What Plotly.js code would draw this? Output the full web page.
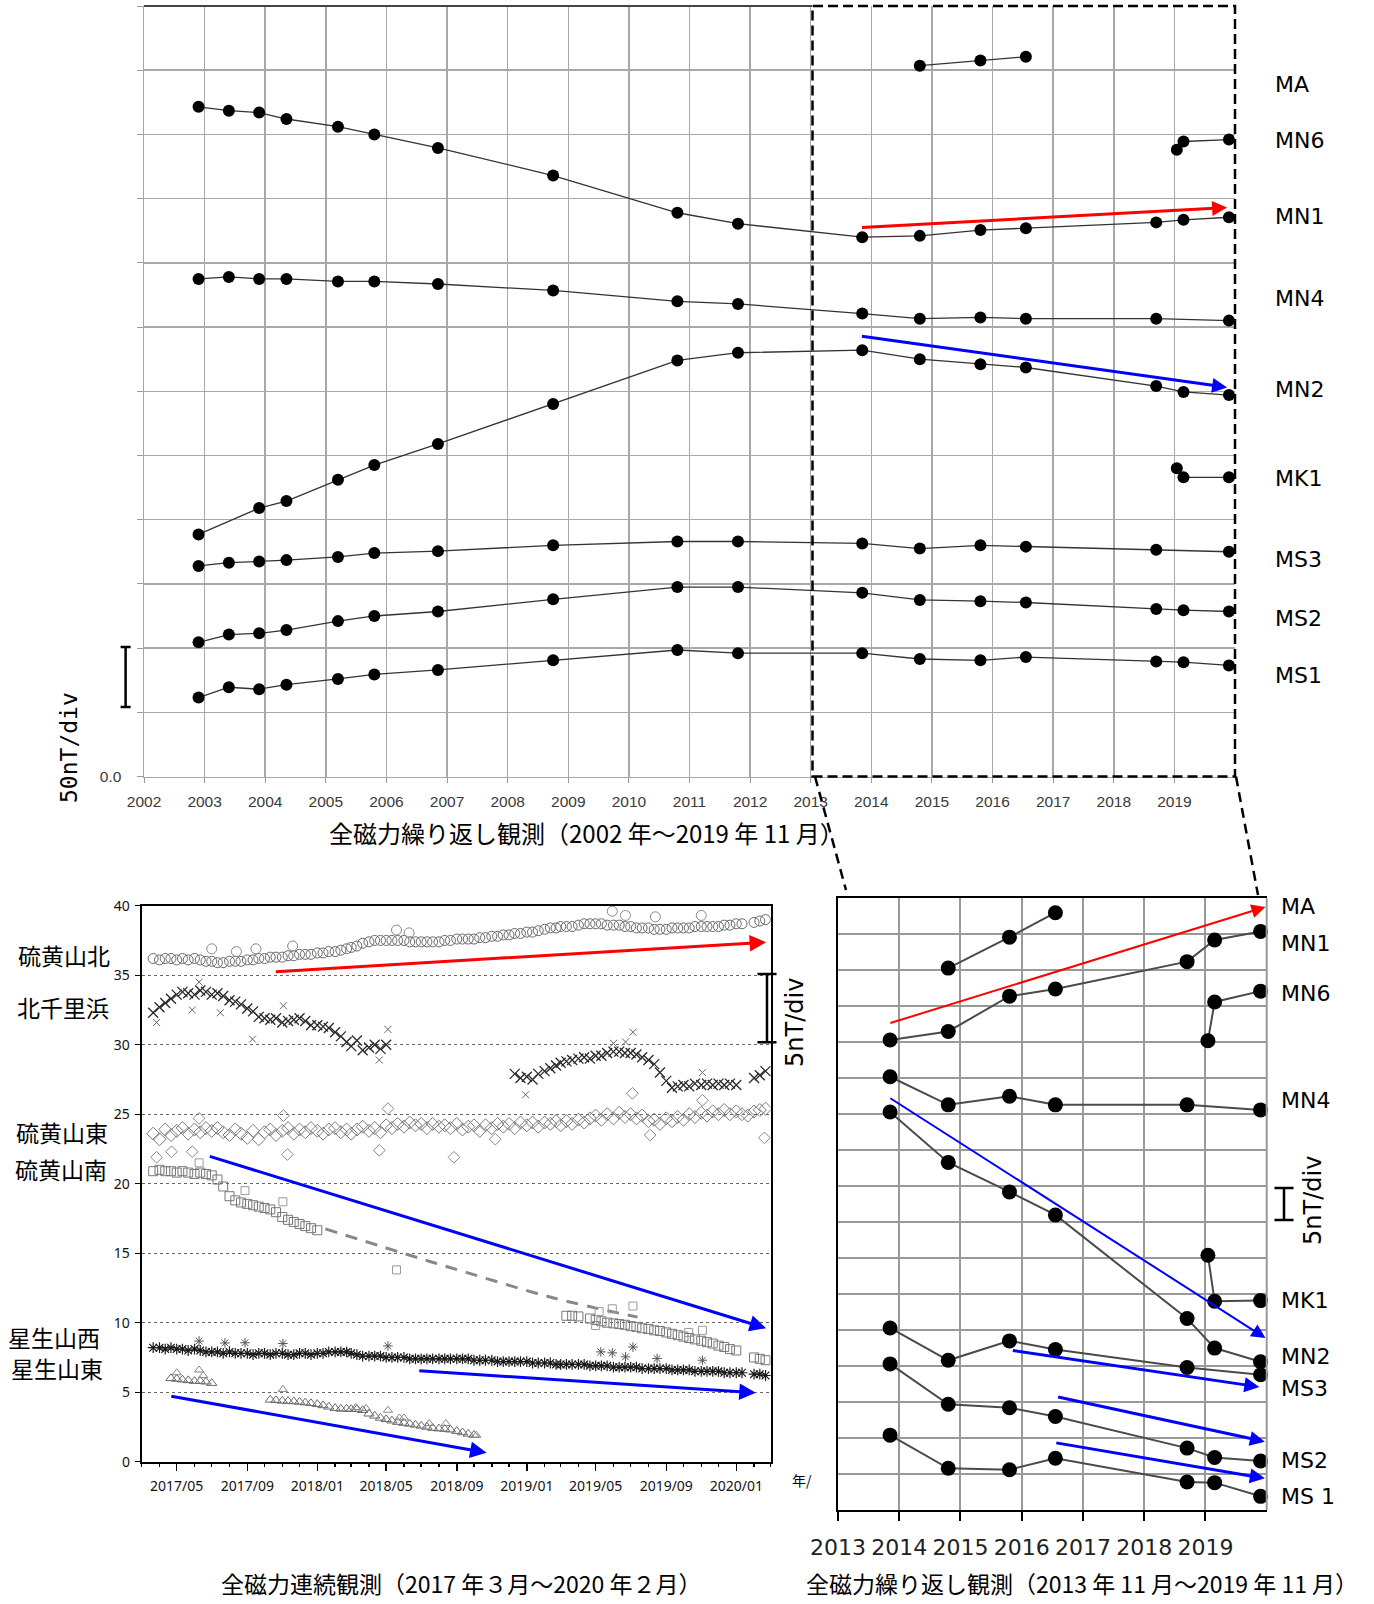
<!DOCTYPE html>
<html><head><meta charset="utf-8">
<script src="https://cdn.plot.ly/plotly-3.0.1.min.js"></script>
<style>html,body{margin:0;padding:0;background:#fff}#chart{width:1374px;height:1604px}</style>
</head><body><div id="chart"></div>
<script>
const W=1374,H=1604;
const px=x=>x/W, py=y=>1-y/H;
const _=null;

// ---------- Top panel: repeat survey 2002-2019 (nT, 50 nT/div) ----------
const topYears=[2002,2003,2004,2005,2006,2007,2008,2009,2010,2011,2012,2013,2014,2015,2016,2017,2018,2019];
const topYearLabels=['2002','2003','2004','2005','2006','2007','2008','2009','2010','2011','2012','2013','2014','2015','2016','2017','2018','2019'];
const topYTicks=[0,50,100,150,200,250,300,350,400,450,500,550,600];
const topYLabels=['0.0','','','','','','','','','','','',''];
const surveyDates=[2002.9,2003.4,2003.9,2004.35,2005.2,2005.8,2006.85,2008.75,2010.8,2011.8,2013.85,2014.8,2015.8,2016.55,2018.7,2019.15,2019.9];
const maDates=[2014.8,2015.8,2016.55];
const lateDates=[2019.04,2019.15,2019.9];
const topMA=[553.5,557.5,560.5];
const topMN6=[488,494.5,496];
const topMN1=[521.5,518.5,517,512,506,500,489.5,468,439,430.5,420,421,425.5,427,431.5,433.5,435.5];
const topMN4=[387.5,389,387.5,387.5,385.5,385.5,383.5,378.5,370,368,360.5,356.5,357.5,356.5,356.5,_,355];
const topMN2=[188.5,_,209,214.5,231,242.5,259,290,324,330,332,325,321,318.5,304,299.5,297];
const topMK1=[240,233,233];
const topMS3=[164,166.5,167.5,168.5,171,174,175.5,180,183,183,181.5,177.5,180,179,176.5,_,175];
const topMS2=[104.5,110.5,111.5,114,121,125,128.5,138,147.5,147.5,143,137.5,136.5,135.5,130.5,129.5,128.5];
const topMS1=[61.5,69.5,68,71.5,76,79.5,83,90.5,98.5,96,96,91.5,90.5,93,89.5,89,86.5];

// ---------- Bottom right: repeat survey 2013-2019 (nT, 5 nT/div) ----------
const rYears=[2013,2014,2015,2016,2017,2018,2019];
const rYearLabels=['2013','2014','2015','2016','2017','2018','2019'];
const rDates=[2013.85,2014.8,2015.8,2016.55,2018.7,2019.15,2019.9];
const rMA=[75.3,79.6,83.0];
const rMN1=[65.3,66.5,71.4,72.4,76.2,79.2,80.4];
const rMN6=[65.2,70.6,72.1];
const rMN4=[60.2,56.3,57.5,56.3,56.3,_,55.6];
const rMN2=[55.3,48.3,44.2,41.0,26.6,22.5,20.6];
const rMK1=[35.4,29.0,29.1];
const rMS3=[25.3,20.8,23.5,22.3,19.8,_,18.8];
const rMS2=[20.3,14.7,14.2,13.0,8.6,7.3,6.8];
const rMS1=[10.4,5.8,5.6,7.2,3.9,3.8,1.9];

// ---------- Bottom left: continuous observation 2017/03 - 2020/02 ----------
const obsTickVals=['2017-05-01','2017-09-01','2018-01-01','2018-05-01','2018-09-01','2019-01-01','2019-05-01','2019-09-01','2020-01-01'];
const obsTickText=['2017/05','2017/09','2018/01','2018/05','2018/09','2019/01','2019/05','2019/09','2020/01'];
const obsDates=`2017-03-21 2017-04-01 2017-04-11 2017-04-21 2017-05-01 2017-05-11 2017-05-21 2017-06-01 2017-06-11 2017-06-21
2017-07-01 2017-07-11 2017-07-21 2017-08-01 2017-08-11 2017-08-21 2017-09-01 2017-09-11 2017-09-21 2017-10-01
2017-10-11 2017-10-21 2017-11-01 2017-11-11 2017-11-21 2017-12-01 2017-12-11 2017-12-21 2018-01-01 2018-01-11
2018-01-21 2018-02-01 2018-02-11 2018-02-21 2018-03-01 2018-03-11 2018-03-21 2018-04-01 2018-04-11 2018-04-21
2018-05-01 2018-05-11 2018-05-21 2018-06-01 2018-06-11 2018-06-21 2018-07-01 2018-07-11 2018-07-21 2018-08-01
2018-08-11 2018-08-21 2018-09-01 2018-09-11 2018-09-21 2018-10-01 2018-10-11 2018-10-21 2018-11-01 2018-11-11
2018-11-21 2018-12-01 2018-12-11 2018-12-21 2019-01-01 2019-01-11 2019-01-21 2019-02-01 2019-02-11 2019-02-21
2019-03-01 2019-03-11 2019-03-21 2019-04-01 2019-04-11 2019-04-21 2019-05-01 2019-05-11 2019-05-21 2019-06-01
2019-06-11 2019-06-21 2019-07-01 2019-07-11 2019-07-21 2019-08-01 2019-08-11 2019-08-21 2019-09-01 2019-09-11
2019-09-21 2019-10-01 2019-10-11 2019-10-21 2019-11-01 2019-11-11 2019-11-21 2019-12-01 2019-12-11 2019-12-21
2020-01-01 2020-01-11 2020-01-21 2020-02-01 2020-02-11 2020-02-21`.trim().split(/\s+/);
// 硫黄山北 (circles)
const ioN=[36.2,36.1,36.2,36.2,36.1, 36.2,36.1,36.2,36.1,36.0, 36.0,35.9,35.9,36.0,36.0, 36.0,36.1,36.1,36.2,36.2,
 36.3,36.3,36.3,36.4,36.4, 36.5,36.5,36.5,36.6,36.6, 36.7,36.7,36.8,36.9,37.0, 37.1,37.3,37.4,37.5,37.5,
 37.5,37.5,37.5,37.5,37.4, 37.4,37.4,37.4,37.4,37.4, 37.5,37.5,37.6,37.6,37.6, 37.6,37.7,37.7,37.8,37.8,
 37.9,37.9,38.0,38.0,38.1, 38.1,38.2,38.3,38.4,38.4, 38.5,38.5,38.5,38.6,38.7, 38.7,38.7,38.7,38.6,38.6,
 38.6,38.5,38.5,38.4,38.4, 38.4,38.3,38.3,38.3,38.4, 38.4,38.4,38.4,38.5,38.5, 38.5,38.5,38.5,38.6,38.6,
 38.7,38.7,_,38.8,38.9,39.0];
// 北千里浜 (x)
const kita=[32.3,32.7,33.0,33.3,33.6, 33.8,33.7,33.6,33.9,33.8, 33.6,33.7,33.5,33.2,33.1, 32.9,32.6,32.4,32.0,31.9,
 31.8,31.9,31.6,31.7,31.8, 31.9,31.7,31.4,31.4,31.3, 31.2,30.9,30.6,30.2,29.9, 30.3,29.6,29.8,30.0,29.7,
 30.0,_,_,_,_, _,_,_,_,_, _,_,_,_,_, _,_,_,_,_,
 _,_,27.9,27.6,27.7, 27.5,27.9,28.1,28.3,28.5, 28.7,28.8,28.9,29.0,29.1, 29.0,29.2,29.2,29.4,29.5,
 29.5,29.4,29.4,29.3,29.1, 28.9,28.6,28.0,27.4,26.9, 27.0,27.1,27.0,27.2,27.1, 27.2,27.1,27.2,27.1,27.2,
 27.1,_,_,27.6,27.8,28.1];
// 硫黄山東 (diamonds)
const ioE=[23.6,23.2,23.9,23.5,23.8,24.0,23.6,23.9,23.7,24.0,
 23.8,24.0,23.7,23.5,23.9,23.6,23.3,23.8,23.2,23.7,
 23.9,23.5,23.8,24.0,23.6,23.9,23.7,24.0,23.8,23.6,
 23.9,24.0,23.7,23.9,23.6,23.9,24.1,23.8,24.0,23.7,
 24.2,24.0,24.3,24.1,24.4,24.2,24.3,24.0,24.3,24.1,
 24.2,24.0,24.3,23.9,24.1,24.2,23.8,24.2,24.0,24.3,
 24.1,24.3,24.0,24.4,24.2,24.4,24.1,24.4,24.3,24.5,
 24.2,24.5,24.3,24.6,24.4,24.7,24.9,24.6,25.0,24.7,
 25.1,24.8,25.0,24.7,24.9,24.5,24.6,24.3,24.7,24.5,
 24.8,24.6,25.0,24.8,25.1,24.9,25.2,25.0,25.3,25.0,
 25.2,25.0,24.9,25.2,25.3,25.4];
// 硫黄山南 (squares)
const ioS=[20.9,21.0,20.9,20.9,20.8, 20.9,20.8,20.7,20.8,20.7, 20.6,20.3,19.8,19.1,18.8, 18.65,18.55,18.45,18.35,18.25,
 18.15,17.95,17.6,17.4,17.25, 17.1,16.95,16.8,16.65,_, _,_,_,_,_, _,_,_,_,_,
 _,_,_,_,_, _,_,_,_,_, _,_,_,_,_, _,_,_,_,_,
 _,_,_,_,_, _,_,_,_,_, _,10.5,10.5,10.45,_, 10.3,10.2,10.1,10.0,9.95,
 9.9,9.85,9.75,9.7,9.6, 9.55,9.45,9.4,9.3,9.2, 9.1,9.0,8.9,8.8,8.7, 8.6,8.5,8.35,8.25,8.1,
 8.0,_,_,7.5,7.4,7.3];
// 硫黄山南 interpolation (dashed)
const ioSgapDates=['2018-01-15','2018-05-25','2018-09-19','2019-02-15','2019-07-13'];
const ioSgapVals=[16.75,15.07,13.6,11.8,10.4];
// 星生山西 (asterisks)
const hoW=[8.2,8.2,8.1,8.2,8.1, 8.1,8.0,8.1,8.0,7.9, 7.9,7.9,7.8,7.9,7.8, 7.8,7.8,7.7,7.8,7.8,
 7.7,7.8,7.8,7.7,7.7, 7.8,7.8,7.7,7.8,7.8, 7.9,7.9,7.9,7.9,7.8, 7.7,7.6,7.6,7.6,7.6,
 7.5,7.5,7.5,7.5,7.4, 7.4,7.4,7.4,7.4,7.4, 7.4,7.4,7.4,7.4,7.4, 7.3,7.3,7.3,7.3,7.2,
 7.2,7.2,7.2,7.2,7.2, 7.1,7.1,7.1,7.1,7.0, 7.0,7.0,7.0,7.0,7.0, 6.9,6.9,6.9,6.9,6.8,
 6.8,6.8,6.8,6.8,6.7, 6.7,6.7,6.7,6.7,6.6, 6.6,6.6,6.6,6.5,6.5, 6.5,6.5,6.5,6.4,6.4,
 6.4,6.4,_,6.3,6.3,6.2];
// 星生山東 (triangles)
const hoE=[_,_,_,6.0,5.95, 5.9,5.85,5.8,5.8,5.75, 5.65,_,_,_,_, _,_,_,_,_,
 4.45,4.42,4.38,4.36,4.33, 4.3,4.25,4.2,4.14,4.05, 3.95,3.85,3.8,3.8,3.78, 3.78,3.7,3.45,3.3,3.15,
 3.05,2.95,2.85,2.78,2.72, 2.65,2.58,2.5,2.42,2.38, 2.35,2.3,2.2,2.1,2.0, 1.92,_,_,_,_,
 _,_,_,_,_, _,_,_,_,_, _,_,_,_,_, _,_,_,_,_,
 _,_,_,_,_, _,_,_,_,_, _,_,_,_,_, _,_,_,_,_,
 _,_,_,_,_,_];
// scattered single readings
const ioNoutD=['2017-07-01','2017-08-13','2017-09-16','2017-11-19','2018-05-19','2018-06-10','2019-05-30','2019-06-22','2019-08-13','2019-11-01'];
const ioNoutV=[36.9,36.7,36.9,37.1,38.25,38.05,39.6,39.3,39.2,39.3];
const kitaOutD=['2017-03-27','2017-05-28','2017-06-09','2017-07-16','2017-09-10','2017-11-03','2018-04-19','2018-05-04','2019-07-05','2019-06-22','2019-06-01','2018-12-30','2019-11-03'];
const kitaOutV=[31.6,32.5,34.5,32.3,30.4,32.8,28.9,31.1,30.9,30.2,30.1,26.4,28.0];
const ioEoutD=['2017-03-27','2017-04-22','2017-05-28','2017-06-09','2017-11-03','2017-11-10','2018-04-19','2018-05-04','2018-08-27','2018-11-07','2019-07-04','2019-08-04','2019-11-03','2020-02-19'];
const ioEoutV=[21.9,22.3,22.3,24.7,24.9,22.1,22.4,25.4,21.9,23.2,26.5,23.5,26.0,23.3];
const ioSoutD=['2017-08-28','2017-11-02','2017-06-09','2018-05-19','2019-07-05','2019-05-30','2019-05-07','2019-11-03','2019-10-10','2019-05-01'];
const ioSoutV=[19.5,18.7,21.5,13.8,11.2,11.0,10.8,9.45,9.3,9.8];
const hoWoutD=['2017-06-09','2017-07-24','2017-08-28','2017-11-02','2018-05-04','2019-05-10','2019-05-30','2019-07-05','2019-06-22','2019-08-16','2019-11-03'];
const hoWoutV=[8.68,8.54,8.56,8.5,8.33,7.9,7.83,8.25,7.54,7.42,7.3];
const hoEoutD=['2017-05-01','2017-06-09','2017-06-16','2017-11-02','2018-03-09','2018-03-27','2018-05-04','2018-05-24','2018-06-01','2018-07-15','2018-08-13','2018-10-05'];
const hoEoutV=[6.4,6.6,6.2,5.2,3.9,3.83,3.7,3.15,3.15,2.75,2.75,1.9];

// ---------------- traces ----------------
const traces=[];
function topLine(x,y){traces.push({type:'scatter',mode:'lines+markers',x:x,y:y,xaxis:'x',yaxis:'y',connectgaps:true,cliponaxis:false,
  line:{color:'#333',width:1.3},marker:{color:'#000',size:12},hoverinfo:'skip',showlegend:false});}
topLine(maDates,topMA);topLine(lateDates,topMN6);topLine(surveyDates,topMN1);topLine(surveyDates,topMN4);
topLine(surveyDates,topMN2);topLine(lateDates,topMK1);topLine(surveyDates,topMS3);topLine(surveyDates,topMS2);topLine(surveyDates,topMS1);

function rLine(x,y){traces.push({type:'scatter',mode:'lines+markers',x:x,y:y,xaxis:'x3',yaxis:'y3',connectgaps:true,cliponaxis:false,
  line:{color:'#4a4a4a',width:2},marker:{color:'#000',size:15},hoverinfo:'skip',showlegend:false});}
rLine(maDates,rMA);rLine(rDates,rMN1);rLine(lateDates,rMN6);rLine(rDates,rMN4);rLine(rDates,rMN2);
rLine(lateDates,rMK1);rLine(rDates,rMS3);rLine(rDates,rMS2);rLine(rDates,rMS1);

function obs(x,y,sym,color,size,lw){traces.push({type:'scatter',mode:'markers',x:x,y:y,xaxis:'x2',yaxis:'y2',
  marker:{symbol:sym,size:size,color:color,line:{width:lw||1,color:color}},hoverinfo:'skip',showlegend:false});}
traces.push({type:'scatter',mode:'lines',x:ioSgapDates,y:ioSgapVals,xaxis:'x2',yaxis:'y2',line:{color:'#888',width:3,dash:'12px,9px',shape:'spline'},hoverinfo:'skip',showlegend:false});
obs(obsDates,ioN,'circle-open','#6a6a6a',10); obs(ioNoutD,ioNoutV,'circle-open','#888',10);
obs(obsDates,kita,'x-thin-open','#2a2a2a',10,1.3); obs(kitaOutD,kitaOutV,'x-thin-open','#666',7);
obs(obsDates,ioE,'diamond-open','#7a7a7a',10); obs(ioEoutD,ioEoutV,'diamond-open','#888',9);
obs(obsDates,ioS,'square-open','#777',9); obs(ioSoutD,ioSoutV,'square-open','#999',8);
obs(obsDates,hoW,'asterisk-open','#1a1a1a',9,1.2); obs(hoWoutD,hoWoutV,'asterisk-open','#555',8);
obs(obsDates,hoE,'triangle-up-open','#6a6a6a',9); obs(hoEoutD,hoEoutV,'triangle-up-open','#888',8);

// ---------------- annotations ----------------
const ann=[];
function txt(t,x,y,size,o){o=o||{};ann.push({text:t,xref:'paper',yref:'paper',x:px(x),y:py(y),showarrow:false,
  font:{family:o.family||'DejaVu Sans',size:size,color:o.color||'#000'},xanchor:o.xa||'center',yanchor:'middle',textangle:o.angle||0});}
function arrow(n,x0,y0,x1,y1,color,w,s){ann.push({xref:'x'+n,yref:'y'+n,axref:'x'+n,ayref:'y'+n,x:x1,y:y1,ax:x0,ay:y0,
  showarrow:true,arrowhead:2,arrowsize:s,arrowwidth:w,arrowcolor:color,text:''});}
const CJK='Noto Sans CJK JP';
[['MA',85],['MN6',140],['MN1',216],['MN4',298],['MN2',389],['MK1',478],['MS3',559],['MS2',618],['MS1',675]].forEach(a=>txt(a[0],1273,a[1],22,{xa:'left'}));
[['MA',906.7],['MN1',943.3],['MN6',993],['MN4',1100],['MK1',1300.7],['MN2',1356.7],['MS3',1388.3],['MS2',1460],['MS 1',1496.7]].forEach(a=>txt(a[0],1279,a[1],22,{xa:'left'}));
txt('50nT/div',69,748,23,{family:'DejaVu Sans Mono',angle:-90});
txt('5nT/div',795,1023,24,{angle:-90});
txt('5nT/div',1313,1201,24,{angle:-90});
txt('全磁力繰り返し観測（2002 年～2019 年 11 月）',586,832,24,{family:CJK});
txt('全磁力連続観測（2017 年３月～2020 年２月）',461,1583,23,{family:CJK});
txt('全磁力繰り返し観測（2013 年 11 月～2019 年 11 月）',1082,1583,23,{family:CJK});
txt('年/',790,1480,14,{family:CJK,xa:'left'});
[['硫黄山北',64,955],['北千里浜',63,1007],['硫黄山東',62,1132],['硫黄山南',61,1169],['星生山西',54,1337],['星生山東',57,1368]].forEach(a=>txt(a[0],a[1],a[2],23,{family:CJK}));
arrow('',2013.82,427.5,2019.87,443,'#ff0000',3,1);
arrow('',2013.82,343,2019.87,303,'#0000ff',3,1);
arrow('2','2017-10-18',35.25,'2020-02-22',37.37,'#ff0000',3,1.1);
arrow('2','2017-06-25',22.0,'2020-02-22',9.6,'#0000ff',3,1.1);
arrow('2','2018-06-25',6.55,'2020-02-04',4.96,'#0000ff',3,1.1);
arrow('2','2017-04-19',4.73,'2018-10-23',0.65,'#0000ff',3,1.1);
arrow('3',2013.83,67.6,2019.98,83.8,'#ff0000',2,1.4);
arrow('3',2013.83,57.35,2019.98,23.9,'#0000ff',2,1.4);
arrow('3',2015.83,22.2,2019.88,17.1,'#0000ff',3,1);
arrow('3',2016.57,15.75,2019.97,9.5,'#0000ff',3,1);
arrow('3',2016.54,9.36,2019.97,4.4,'#0000ff',3,1);

// ---------------- shapes ----------------
const shapes=[];
function seg(x0,y0,x1,y1,color,w,dash){shapes.push({type:'line',xref:'paper',yref:'paper',x0:px(x0),y0:py(y0),x1:px(x1),y1:py(y1),line:{color:color,width:w,dash:dash||'solid'}});}
function ibar(x,y0,y1,cw){const h=cw/2;shapes.push({type:'path',xref:'paper',yref:'paper',
  path:`M${px(x-h)},${py(y0)} L${px(x+h)},${py(y0)} M${px(x)},${py(y0)} L${px(x)},${py(y1)} M${px(x-h)},${py(y1)} L${px(x+h)},${py(y1)}`,line:{color:'#000',width:2.5}});}
seg(144,6,812.5,6,'#444',2);
shapes.push({type:'rect',xref:'paper',yref:'paper',x0:px(812.5),x1:px(1235),y0:py(776.5),y1:py(6),line:{color:'#000',width:2.5,dash:'10px,5px'}});
seg(815,776.5,846,890,'#000',2.5,'10px,6px');
seg(1236,776.5,1258,895,'#000',2.5,'10px,6px');
seg(1266.7,898.3,1266.7,1510,'#999',2);
ibar(125.6,647,707,10);
ibar(767,974,1042.3,19);
ibar(1284,1188,1220,19);

const layout={width:W,height:H,margin:{l:0,r:0,t:0,b:0},paper_bgcolor:'#fff',plot_bgcolor:'rgba(0,0,0,0)',showlegend:false,
 xaxis:{domain:[px(144),px(1235)],range:[2002,2020],anchor:'y',tickmode:'array',tickvals:topYears,ticktext:topYearLabels,
   ticks:'outside',ticklen:5,tickcolor:'#999',tickfont:{family:'Liberation Sans',size:15.5,color:'#3a3a3a'},ticklabelstandoff:5,
   showgrid:true,gridcolor:'#a8a8a8',gridwidth:1.5,showline:true,linecolor:'#a8a8a8',linewidth:1.5,zeroline:false},
 yaxis:{domain:[py(776.5),py(6)],range:[0,600],anchor:'x',tickmode:'array',tickvals:topYTicks,ticktext:topYLabels,
   ticks:'outside',ticklen:6,tickcolor:'#999',tickfont:{family:'Liberation Sans',size:15.5,color:'#3a3a3a'},ticklabelstandoff:12,
   showgrid:true,gridcolor:'#a8a8a8',gridwidth:1.5,showline:true,linecolor:'#a8a8a8',linewidth:1.5,zeroline:false},
 xaxis2:{domain:[px(141.7),px(770.7)],type:'date',range:['2017-03-01','2020-03-01'],anchor:'y2',tickmode:'array',tickvals:obsTickVals,ticktext:obsTickText,
   ticks:'outside',ticklen:7,tickwidth:1.5,tickcolor:'#000',tickfont:{family:'Noto Sans',size:14,color:'#111'},ticklabelstandoff:3,
   minor:{ticks:'outside',ticklen:3,tickcolor:'#000',dtick:'M1',tick0:'2017-03-01',showgrid:false},
   showgrid:false,showline:true,linecolor:'#000',linewidth:2,mirror:true,zeroline:false},
 yaxis2:{domain:[py(1461.7),py(905.7)],range:[0,40],anchor:'x2',tickmode:'linear',tick0:0,dtick:5,
   ticks:'outside',ticklen:5,tickcolor:'#000',tickfont:{family:'Noto Sans',size:14,color:'#111'},ticklabelstandoff:2,
   showgrid:true,gridcolor:'#666',griddash:'dot',gridwidth:1,showline:true,linecolor:'#000',linewidth:2,mirror:true,zeroline:false},
 xaxis3:{domain:[px(838),px(1266.7)],range:[2013,2020],anchor:'y3',tickmode:'array',tickvals:rYears,ticktext:rYearLabels,
   ticks:'outside',ticklen:9,tickwidth:2,tickcolor:'#000',tickfont:{family:'DejaVu Sans',size:22,color:'#222'},ticklabelstandoff:8,
   showgrid:true,gridcolor:'#999',gridwidth:2,showline:true,linecolor:'#000',linewidth:2,mirror:true,zeroline:false},
 yaxis3:{domain:[py(1510),py(898.3)],range:[0,85],anchor:'x3',tickmode:'linear',tick0:0,dtick:5,showticklabels:false,ticks:'',
   showgrid:true,gridcolor:'#999',gridwidth:2,showline:true,linecolor:'#000',linewidth:2,zeroline:false},
 annotations:ann,shapes:shapes};
Plotly.newPlot('chart',traces,layout,{staticPlot:true,displayModeBar:false});
</script></body></html>
